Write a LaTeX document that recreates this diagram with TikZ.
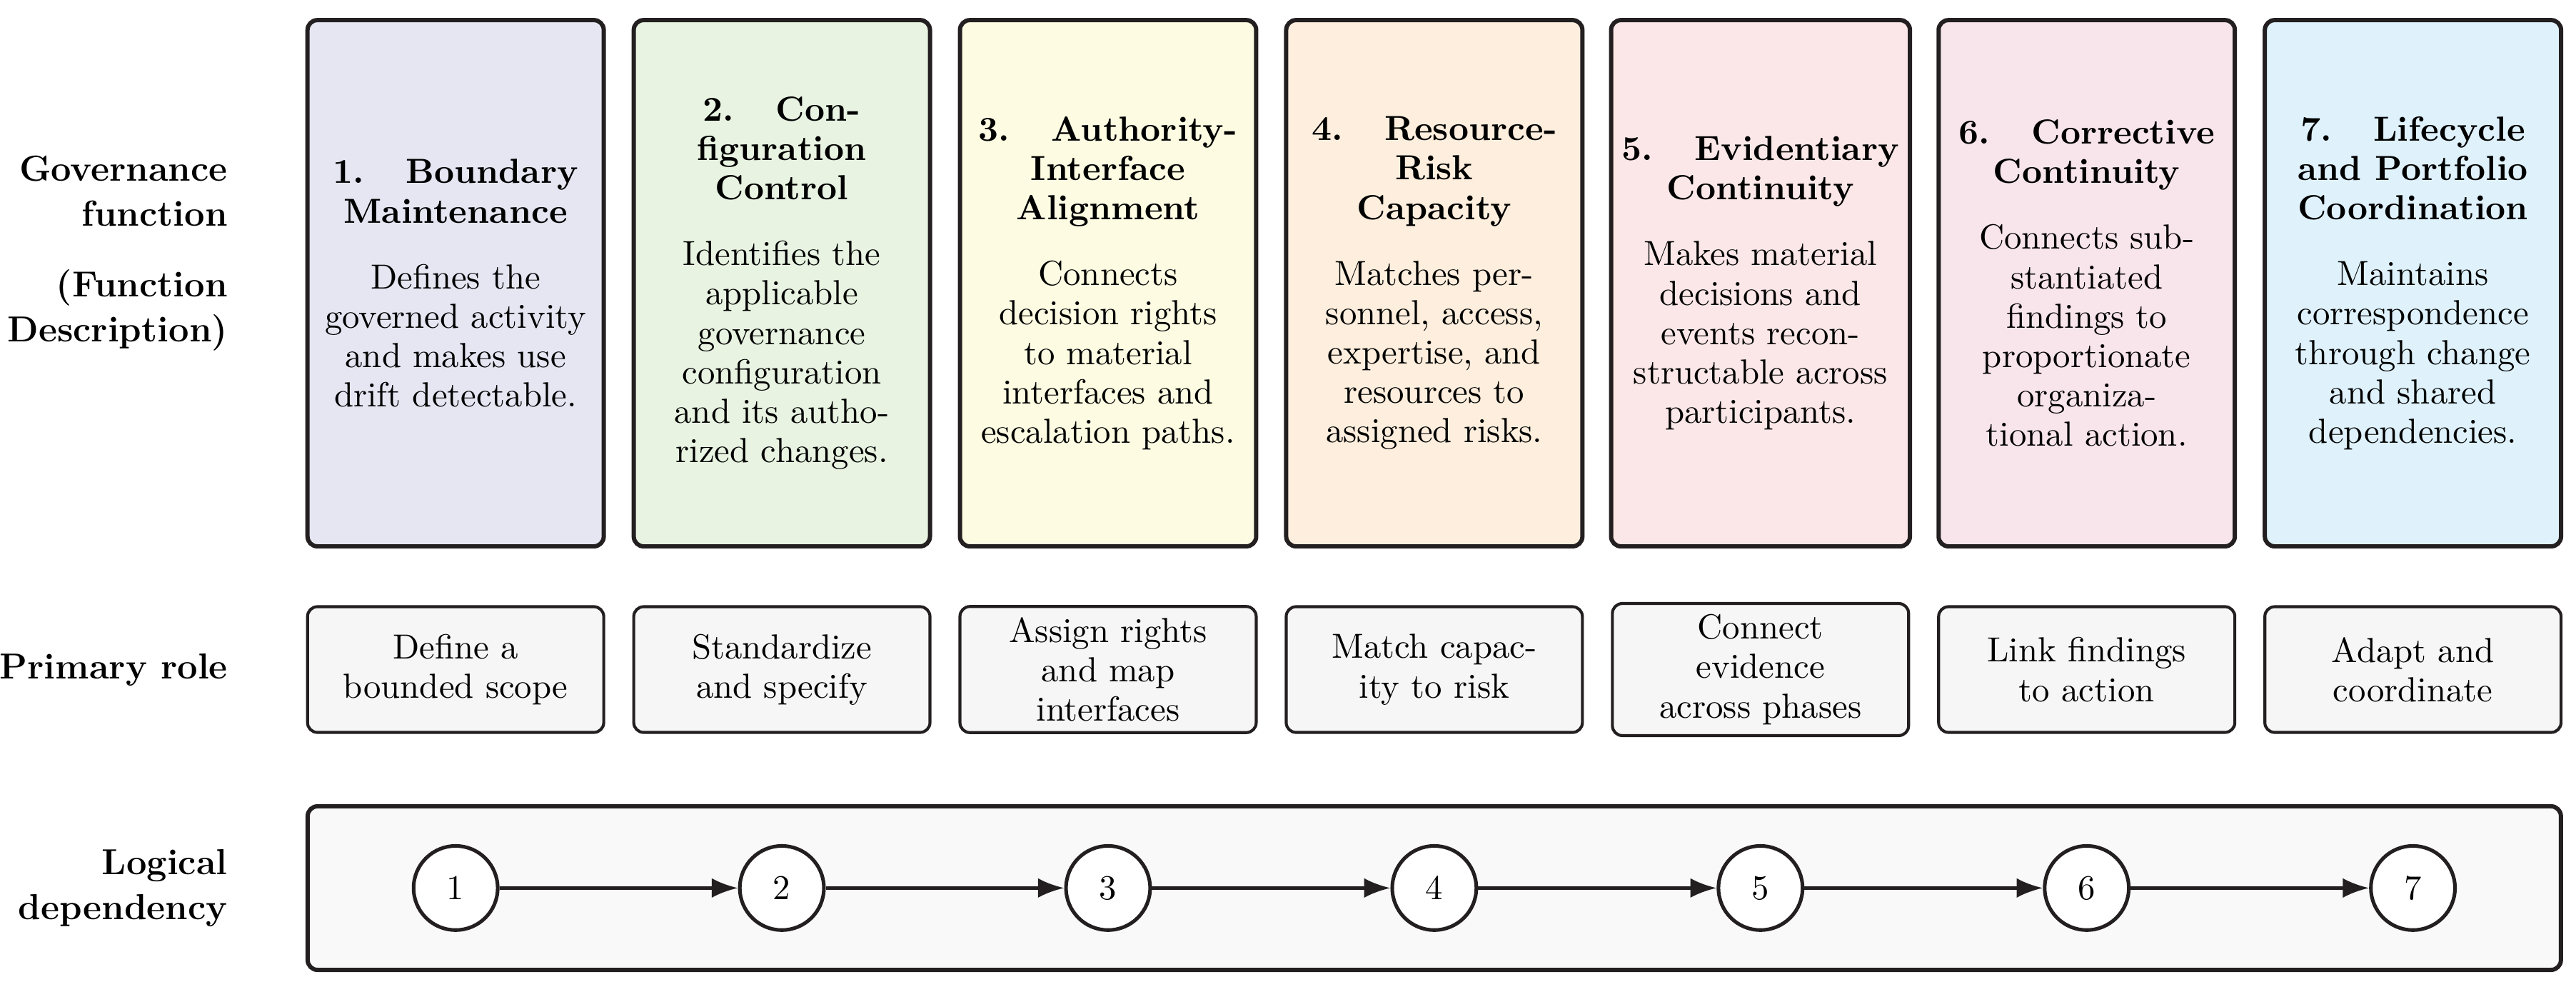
\documentclass[tikz,border=0pt]{standalone}
\usetikzlibrary{arrows.meta}
\definecolor{edge}{RGB}{35,31,32}
\definecolor{fillone}{RGB}{230,230,243}
\definecolor{filltwo}{RGB}{232,243,226}
\definecolor{fillthree}{RGB}{253,252,226}
\definecolor{fillfour}{RGB}{253,238,221}
\definecolor{fillfive}{RGB}{251,231,231}
\definecolor{fillsix}{RGB}{248,229,236}
\definecolor{fillseven}{RGB}{223,242,252}
\definecolor{rolegray}{RGB}{246,246,246}
\definecolor{depgray}{RGB}{249,249,249}
\begin{document}
\begin{tikzpicture}[font=\fontsize{10.6}{12}\selectfont, line join=round, >={Latex[length=8pt,width=6pt]},
  func/.style={draw=edge, line width=1.3pt, rounded corners=3pt, minimum width=3.17cm, minimum height=5.63cm, align=center},
  role/.style={draw=edge, line width=0.9pt, rounded corners=3pt, fill=rolegray, minimum width=3.17cm, minimum height=1.345cm, align=center},
  stage/.style={circle, draw=edge, line width=1.1pt, fill=white, minimum size=0.9cm, inner sep=0pt},
  rowlabel/.style={anchor=east, align=right, font=\fontsize{11}{13.6}\selectfont\bfseries}]
\useasboundingbox (0,0) rectangle (27.567,-10.559);
\node[rowlabel] (lgov) at (2.56,-2.71) {Governance\\function\\[8pt](Function\\Description)};
\node[rowlabel] (lrole) at (2.56,-7.163) {Primary role};
\node[rowlabel] (ldep) at (2.56,-9.50) {Logical\\dependency};
\node[func, fill=fillone] (f1) at (4.876,-3.03) {\textbf{1.\hspace{1.2em}Boundary}\\\textbf{Maintenance}\\[8pt]Defines the\\governed activity\\and makes use\\drift detectable.};
\node[func, fill=filltwo] (f2) at (8.367,-3.03) {\textbf{2.\hspace{1.2em}Con-}\\\textbf{figuration}\\\textbf{Control}\\[8pt]Identifies the\\applicable\\governance\\configuration\\and its autho-\\rized changes.};
\node[func, fill=fillthree] (f3) at (11.858,-3.03) {\textbf{3.\hspace{1.2em}Authority-}\\\textbf{Interface}\\\textbf{Alignment}\\[8pt]Connects\\decision rights\\to material\\interfaces and\\escalation paths.};
\node[func, fill=fillfour] (f4) at (15.349,-3.03) {\textbf{4.\hspace{1.2em}Resource-}\\\textbf{Risk}\\\textbf{Capacity}\\[8pt]Matches per-\\sonnel, access,\\expertise, and\\resources to\\assigned risks.};
\node[func, fill=fillfive] (f5) at (18.840,-3.03) {\textbf{5.\hspace{1.2em}Evidentiary}\\\textbf{Continuity}\\[8pt]Makes material\\decisions and\\events recon-\\structable across\\participants.};
\node[func, fill=fillsix] (f6) at (22.331,-3.03) {\textbf{6.\hspace{1.2em}Corrective}\\\textbf{Continuity}\\[8pt]Connects sub-\\stantiated\\findings to\\proportionate\\organiza-\\tional action.};
\node[func, fill=fillseven] (f7) at (25.822,-3.03) {\textbf{7.\hspace{1.2em}Lifecycle}\\\textbf{and Portfolio}\\\textbf{Coordination}\\[8pt]Maintains\\correspondence\\through change\\and shared\\dependencies.};
\node[role] (r1) at (4.876,-7.163) {Define a\\bounded scope};
\node[role] (r2) at (8.367,-7.163) {Standardize\\and specify};
\node[role] (r3) at (11.858,-7.163) {Assign rights\\and map\\interfaces};
\node[role] (r4) at (15.349,-7.163) {Match capac-\\ity to risk};
\node[role] (r5) at (18.840,-7.163) {Connect\\evidence\\across phases};
\node[role] (r6) at (22.331,-7.163) {Link findings\\to action};
\node[role] (r7) at (25.822,-7.163) {Adapt and\\coordinate};
\node[draw=edge, line width=1.3pt, rounded corners=3pt, fill=depgray, minimum width=24.113cm, minimum height=1.75cm] (dep) at (15.349,-9.501) {};
\node[stage] (s1) at (4.876,-9.50) {1};
\node[stage] (s2) at (8.367,-9.50) {2};
\node[stage] (s3) at (11.858,-9.50) {3};
\node[stage] (s4) at (15.349,-9.50) {4};
\node[stage] (s5) at (18.840,-9.50) {5};
\node[stage] (s6) at (22.331,-9.50) {6};
\node[stage] (s7) at (25.822,-9.50) {7};
\draw[->, edge, line width=1pt] (s1) -- (s2);
\draw[->, edge, line width=1pt] (s2) -- (s3);
\draw[->, edge, line width=1pt] (s3) -- (s4);
\draw[->, edge, line width=1pt] (s4) -- (s5);
\draw[->, edge, line width=1pt] (s5) -- (s6);
\draw[->, edge, line width=1pt] (s6) -- (s7);
\end{tikzpicture}
\end{document}
